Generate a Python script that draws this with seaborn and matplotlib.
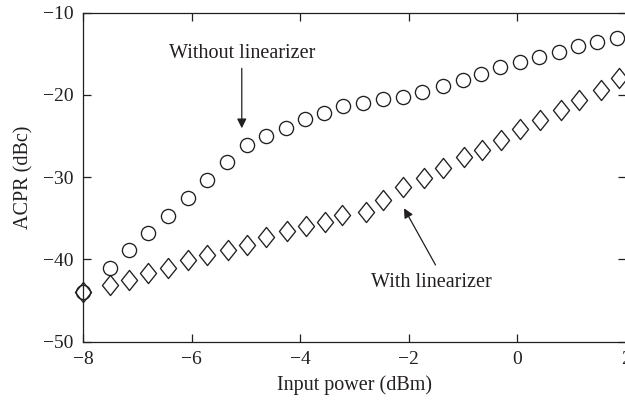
import matplotlib
matplotlib.use("Agg")
import matplotlib.pyplot as plt
from matplotlib.path import Path
import seaborn as sns
import pandas as pd

# ---- data ----
x_without = [-8.0, -7.51, -7.16, -6.81, -6.44, -6.07, -5.72, -5.35, -4.98, -4.63, -4.26,
             -3.91, -3.56, -3.21, -2.84, -2.47, -2.10, -1.75, -1.38, -1.01, -0.68,
             -0.33, 0.04, 0.39, 0.76, 1.11, 1.47, 1.84]
y_without = [-44.0, -41.1, -38.9, -36.8, -34.7, -32.5, -30.3, -28.1, -26.1, -25.0, -24.0,
             -22.9, -22.2, -21.4, -21.0, -20.5, -20.2, -19.6, -18.9, -18.2, -17.4,
             -16.6, -16.0, -15.4, -14.8, -14.1, -13.6, -13.1]

x_with = [-8.0, -7.51, -7.16, -6.80, -6.44, -6.07, -5.72, -5.34, -4.98, -4.63, -4.25,
          -3.90, -3.54, -3.23, -2.79, -2.47, -2.10, -1.73, -1.38, -0.98, -0.66,
          -0.31, 0.05, 0.42, 0.80, 1.14, 1.54, 1.88]
y_with = [-44.0, -43.1, -42.5, -41.7, -41.1, -40.1, -39.5, -38.9, -38.2, -37.3, -36.5,
          -35.95, -35.4, -34.6, -34.2, -32.8, -31.2, -30.1, -28.9, -27.6, -26.7,
          -25.5, -24.2, -23.0, -21.8, -20.6, -19.4, -18.0]

x_ticks = [-8, -6, -4, -2, 0, 2]
y_ticks = [-50, -40, -30, -20, -10]
x_label = "Input power (dBm)"
y_label = "ACPR (dBc)"
label_without = "Without linearizer"
label_with = "With linearizer"

df_without = pd.DataFrame({"x": x_without, "y": y_without})
df_with = pd.DataFrame({"x": x_with, "y": y_with})

# ---- style ----
sns.set_style("white")
plt.rcParams["font.family"] = ["Liberation Serif", "DejaVu Serif"]
plt.rcParams["axes.unicode_minus"] = True
INK = "#231f20"
FS = 14.5

fig = plt.figure(figsize=(6.25, 4.04), dpi=100)
ax = fig.add_axes([0.1333, 0.1542, 1.0016 - 0.1333, 0.9686 - 0.1542])

diamond = Path([(0, 1), (0.8, 0), (0, -1), (-0.8, 0), (0, 1)],
               [Path.MOVETO, Path.LINETO, Path.LINETO, Path.LINETO, Path.CLOSEPOLY])

sns.lineplot(data=df_with, x="x", y="y", ax=ax, linestyle="", marker=diamond,
             markersize=14.5, markerfacecolor="none", markeredgecolor=INK,
             markeredgewidth=0.95, sort=False, estimator=None, clip_on=False, zorder=3)
sns.lineplot(data=df_without, x="x", y="y", ax=ax, linestyle="", marker="o",
             markersize=10.2, markerfacecolor="none", markeredgecolor=INK,
             markeredgewidth=0.95, sort=False, estimator=None, clip_on=False, zorder=3)

ax.set_xlim(-8, 2)
ax.set_ylim(-50, -10)
ax.set_xticks(x_ticks)
ax.set_yticks(y_ticks)
ax.set_xlabel(x_label, fontsize=FS, color=INK, labelpad=5)
ax.set_ylabel(y_label, fontsize=FS, color=INK, labelpad=7)

for s in ax.spines.values():
    s.set_visible(True)
    s.set_color(INK)
    s.set_linewidth(0.9)
ax.tick_params(direction="in", length=5.5, width=0.9, colors=INK, labelsize=14,
               top=True, right=True, bottom=True, left=True, pad=7)

arrow_kw = dict(arrowstyle="-|>", color=INK, lw=0.9, mutation_scale=14,
                shrinkA=0, shrinkB=0)
ax.annotate("", xy=(-5.08, -24.05), xytext=(-5.08, -16.76), arrowprops=arrow_kw)
ax.text(-5.08, -14.94, label_without, ha="center", va="center", fontsize=FS, color=INK)
ax.annotate("", xy=(-2.09, -33.78), xytext=(-1.51, -40.67), arrowprops=arrow_kw)
ax.text(-1.58, -42.86, label_with, ha="center", va="center", fontsize=FS, color=INK)

fig.savefig("out.png", dpi=100)
